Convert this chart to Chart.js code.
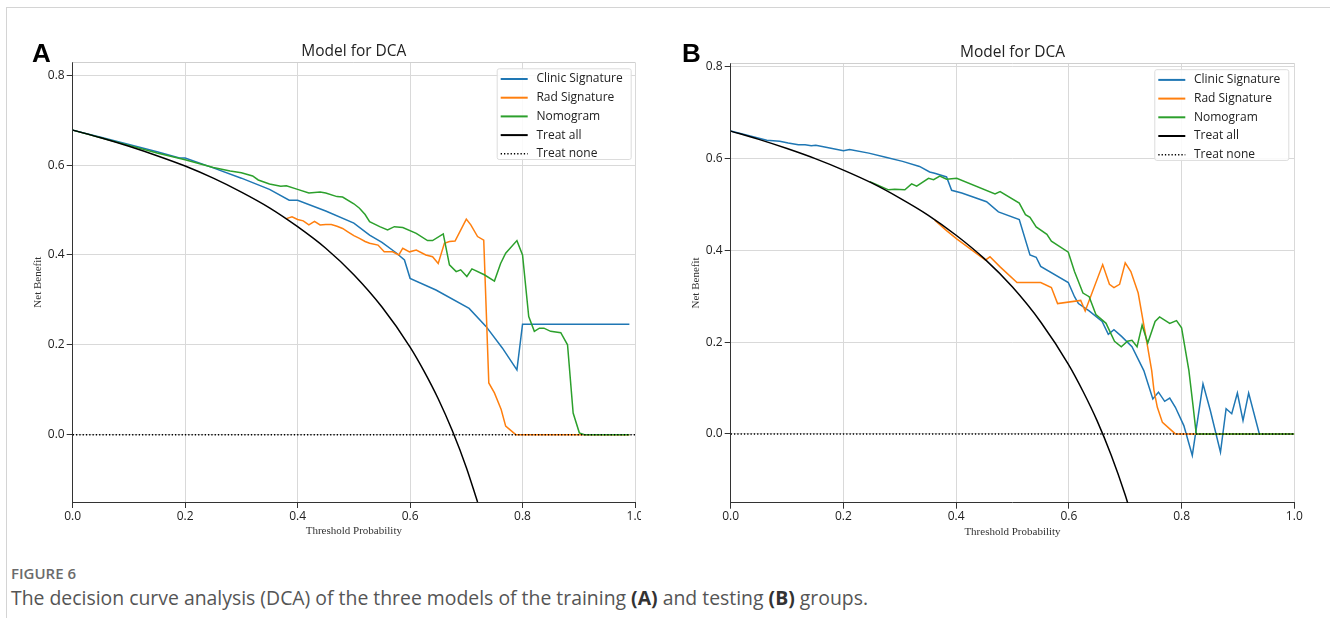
<!DOCTYPE html>
<html>
<head>
<meta charset="utf-8">
<script src="https://cdn.jsdelivr.net/npm/chart.js@4.4.1/dist/chart.umd.min.js"></script>
<style>
html, body { margin: 0; padding: 0; background: #fff; }
body { width: 1330px; height: 626px; position: relative; overflow: hidden; font-family: "Open Sans", sans-serif; }
.frame { position: absolute; left: 6px; top: 7px; width: 1330px; height: 610px; border-left: 1px solid #d4d4d4; border-top: 1px solid #d4d4d4; }
canvas { position: absolute; top: 0; }
#chartA { left: 0; }
#chartB { left: 660px; }
.fig { position: absolute; left: 11px; top: 563px; font-size: 15px; line-height: 20px; font-weight: 600; color: #6b6b6b; }
.cap { position: absolute; left: 11px; top: 586px; font-size: 19.4px; line-height: 24px; color: #555; white-space: nowrap; }
.cap b { color: #333; }
</style>
</head>
<body>
<div class="frame"></div>
<canvas id="chartA" width="641" height="560"></canvas>
<canvas id="chartB" width="670" height="560"></canvas>
<div class="fig">FIGURE 6</div>
<div class="cap">The decision curve analysis (DCA) of the three models of the training <b>(A)</b> and testing <b>(B)</b> groups.</div>
<script>
// panel A (training)
const treatAllA_t = [0, 0.05, 0.1, 0.15, 0.2, 0.25, 0.3, 0.35, 0.4, 0.45, 0.5, 0.55, 0.6, 0.625, 0.65, 0.675, 0.7, 0.72];
const treatAllA = [0.678, 0.661, 0.642, 0.621, 0.598, 0.571, 0.540, 0.505, 0.463, 0.415, 0.356, 0.284, 0.195, 0.141, 0.080, 0.009, -0.073, -0.150];
const clinicA = [[0,0.678],[0.05,0.662],[0.1,0.646],[0.15,0.630],[0.19,0.616],[0.2,0.616],[0.25,0.594],[0.3,0.571],[0.35,0.546],[0.385,0.522],[0.4,0.522],[0.45,0.498],[0.5,0.471],[0.528,0.444],[0.55,0.428],[0.575,0.405],[0.59,0.389],[0.6,0.348],[0.646,0.322],[0.705,0.281],[0.735,0.241],[0.764,0.193],[0.79,0.144],[0.8,0.246],[0.99,0.246]];
const radA = [[0.38,0.481],[0.39,0.485],[0.40,0.479],[0.41,0.476],[0.42,0.467],[0.43,0.475],[0.44,0.467],[0.45,0.468],[0.46,0.468],[0.47,0.464],[0.48,0.459],[0.49,0.451],[0.50,0.443],[0.51,0.437],[0.52,0.430],[0.528,0.426],[0.543,0.422],[0.554,0.407],[0.569,0.407],[0.58,0.400],[0.587,0.415],[0.599,0.407],[0.611,0.411],[0.628,0.400],[0.640,0.396],[0.650,0.381],[0.661,0.426],[0.670,0.430],[0.680,0.431],[0.700,0.480],[0.708,0.467],[0.720,0.441],[0.731,0.433],[0.740,0.115],[0.750,0.093],[0.762,0.056],[0.770,0.019],[0.788,0.0],[0.99,0.0]];
const nomoA = [[0,0.678],[0.05,0.661],[0.1,0.644],[0.15,0.627],[0.2,0.612],[0.25,0.595],[0.28,0.587],[0.3,0.583],[0.32,0.576],[0.33,0.567],[0.35,0.558],[0.37,0.553],[0.38,0.554],[0.4,0.546],[0.42,0.538],[0.44,0.540],[0.45,0.538],[0.47,0.530],[0.48,0.529],[0.5,0.514],[0.51,0.504],[0.52,0.490],[0.528,0.474],[0.546,0.463],[0.560,0.456],[0.572,0.463],[0.587,0.461],[0.611,0.448],[0.631,0.432],[0.640,0.432],[0.659,0.447],[0.670,0.378],[0.682,0.363],[0.690,0.367],[0.701,0.352],[0.710,0.369],[0.732,0.356],[0.750,0.342],[0.761,0.381],[0.770,0.404],[0.790,0.432],[0.800,0.400],[0.811,0.263],[0.821,0.230],[0.830,0.237],[0.838,0.237],[0.850,0.230],[0.868,0.227],[0.880,0.200],[0.890,0.048],[0.901,0.004],[0.91,0.0],[0.99,0.0]];
const noneA = [[0,0],[1,0]];

// panel B (testing)
const treatAllB_t = [0, 0.05, 0.1, 0.15, 0.2, 0.25, 0.3, 0.35, 0.4, 0.45, 0.5, 0.55, 0.6, 0.625, 0.65, 0.675, 0.7, 0.705];
const treatAllB = [0.660, 0.642, 0.622, 0.600, 0.575, 0.547, 0.514, 0.477, 0.433, 0.382, 0.320, 0.244, 0.150, 0.093, 0.029, -0.046, -0.133, -0.153];
const clinicB = [[0,0.660],[0.064,0.640],[0.087,0.638],[0.102,0.634],[0.12,0.630],[0.132,0.630],[0.143,0.628],[0.151,0.629],[0.169,0.625],[0.2,0.617],[0.211,0.620],[0.245,0.612],[0.275,0.603],[0.305,0.594],[0.335,0.583],[0.353,0.571],[0.362,0.568],[0.383,0.560],[0.392,0.531],[0.41,0.525],[0.454,0.506],[0.475,0.484],[0.512,0.467],[0.531,0.390],[0.542,0.385],[0.55,0.365],[0.599,0.330],[0.61,0.299],[0.617,0.284],[0.636,0.268],[0.659,0.245],[0.67,0.217],[0.68,0.227],[0.693,0.213],[0.712,0.190],[0.733,0.138],[0.749,0.076],[0.759,0.091],[0.770,0.071],[0.779,0.078],[0.789,0.058],[0.804,0.018],[0.819,-0.047],[0.838,0.109],[0.851,0.051],[0.869,-0.040],[0.879,0.055],[0.889,0.044],[0.899,0.089],[0.909,0.029],[0.919,0.089],[0.938,0.0],[1.0,0.0]];
const radB = [[0.362,0.466],[0.383,0.443],[0.401,0.425],[0.452,0.379],[0.46,0.386],[0.478,0.364],[0.508,0.330],[0.55,0.330],[0.569,0.319],[0.58,0.284],[0.621,0.291],[0.629,0.268],[0.66,0.369],[0.672,0.326],[0.68,0.319],[0.69,0.326],[0.70,0.373],[0.71,0.354],[0.723,0.307],[0.738,0.202],[0.747,0.138],[0.751,0.095],[0.757,0.058],[0.766,0.025],[0.789,0.0],[1.0,0.0]];
const nomoB = [[0.247,0.550],[0.280,0.532],[0.291,0.533],[0.309,0.532],[0.321,0.545],[0.33,0.540],[0.351,0.557],[0.36,0.554],[0.371,0.562],[0.383,0.555],[0.401,0.557],[0.469,0.523],[0.478,0.528],[0.512,0.503],[0.523,0.478],[0.531,0.472],[0.542,0.451],[0.561,0.435],[0.569,0.420],[0.599,0.396],[0.61,0.354],[0.625,0.307],[0.636,0.299],[0.648,0.260],[0.666,0.241],[0.681,0.202],[0.693,0.190],[0.704,0.202],[0.712,0.204],[0.721,0.190],[0.73,0.237],[0.74,0.198],[0.753,0.245],[0.761,0.255],[0.779,0.241],[0.791,0.247],[0.80,0.231],[0.813,0.138],[0.82,0.065],[0.826,0.0],[1.0,0.0]];
const noneB = [[0,0],[1,0]];

const xTicks = [0, 0.2, 0.4, 0.6, 0.8, 1.0];
const yTicks = [0, 0.2, 0.4, 0.6, 0.8];
const seriesNames = ["Clinic Signature", "Rad Signature", "Nomogram", "Treat all", "Treat none"];
const seriesColors = ["#1f77b4", "#ff7f0e", "#2ca02c", "#000000", "#000000"];

const pairs = arr => arr.map(p => ({ x: p[0], y: p[1] }));
const zip = (t, v) => t.map((x, i) => ({ x, y: v[i] }));

const decor = {
    id: "decor",
    afterDraw(chart, args, opts) {
        const ctx = chart.ctx;
        const ca = chart.chartArea;
        ctx.save();
        // top frame
        ctx.strokeStyle = "#cfcfcf";
        ctx.lineWidth = 1;
        ctx.beginPath();
        ctx.moveTo(ca.left, Math.round(ca.top) + 0.5);
        ctx.lineTo(ca.right, Math.round(ca.top) + 0.5);
        ctx.stroke();

        // panel letter
        ctx.fillStyle = "#000";
        ctx.font = "bold 26px 'Liberation Sans', Arial, sans-serif";
        ctx.textAlign = "left";
        ctx.textBaseline = "alphabetic";
        ctx.fillText(opts.letter, opts.letterX, 62);

        // title
        ctx.fillStyle = "#222";
        ctx.font = "15.5px 'Open Sans', sans-serif";
        ctx.textAlign = "center";
        ctx.textBaseline = "middle";
        ctx.fillText("Model for DCA", (ca.left + ca.right) / 2, ca.top - 11);

        // axis titles
        ctx.fillStyle = "#333";
        ctx.font = "11px 'Liberation Serif', 'Times New Roman', serif";
        ctx.fillText("Threshold Probability", (ca.left + ca.right) / 2, ca.bottom + 29);
        ctx.save();
        ctx.translate(ca.left - 34.5, (ca.top + ca.bottom) / 2);
        ctx.rotate(-Math.PI / 2);
        ctx.fillText("Net Benefit", 0, 0);
        ctx.restore();

        // legend
        ctx.font = "12px 'Open Sans', sans-serif";
        let tw = 0;
        seriesNames.forEach(n => { tw = Math.max(tw, ctx.measureText(n).width); });
        const bw = 39.7 + tw + 8;
        const bh = 90.7;
        const bx = ca.right - opts.legendGap - bw;
        const by = ca.top + 6;
        ctx.fillStyle = "rgba(255,255,255,0.85)";
        ctx.strokeStyle = "#dcdcdc";
        ctx.beginPath();
        ctx.roundRect(bx + 0.5, by + 0.5, bw, bh, 2);
        ctx.fill();
        ctx.stroke();
        ctx.textAlign = "left";
        seriesNames.forEach((n, i) => {
            const yy = by + 10.7 + i * 18.7;
            ctx.strokeStyle = seriesColors[i];
            ctx.lineWidth = i === 4 ? 1.6 : 2;
            ctx.setLineDash(i === 4 ? [1.3, 2] : []);
            ctx.beginPath();
            ctx.moveTo(bx + 4, yy);
            ctx.lineTo(bx + 31, yy);
            ctx.stroke();
            ctx.setLineDash([]);
            ctx.fillStyle = "#222";
            ctx.fillText(n, bx + 39.7, yy);
        });
        ctx.restore();
    }
};

function makePanel(id, d) {
    const tickFont = { family: "'Open Sans', sans-serif", size: 12 };
    return new Chart(document.getElementById(id), {
        type: "line",
        data: {
            datasets: [
                { label: seriesNames[0], data: pairs(d.clinic), borderColor: seriesColors[0], order: 4 },
                { label: seriesNames[1], data: pairs(d.rad), borderColor: seriesColors[1], order: 3 },
                { label: seriesNames[2], data: pairs(d.nomo), borderColor: seriesColors[2], order: 2 },
                { label: seriesNames[3], data: zip(d.allT, d.all), borderColor: seriesColors[3], cubicInterpolationMode: "monotone", order: 1 },
                { label: seriesNames[4], data: pairs(d.none), borderColor: seriesColors[4], borderDash: [1.3, 2], order: 0 }
            ]
        },
        options: {
            responsive: false,
            animation: false,
            devicePixelRatio: 1,
            layout: { padding: { left: 0, top: d.top, right: d.padRight, bottom: 0 } },
            elements: { point: { radius: 0 }, line: { borderWidth: 1.5, tension: 0, fill: false } },
            plugins: {
                legend: { display: false },
                tooltip: { enabled: false },
                title: { display: false },
                decor: { letter: d.letter, letterX: d.letterX, legendGap: d.legendGap }
            },
            scales: {
                x: {
                    type: "linear",
                    min: 0,
                    max: 1,
                    afterBuildTicks: s => { s.ticks = xTicks.map(v => ({ value: v })); },
                    afterFit: s => { s.height = d.xh; s.paddingLeft = 0; s.paddingRight = 0; },
                    grid: { color: "#d9d9d9", tickColor: "#333", tickLength: 6 },
                    border: { color: "#333" },
                    ticks: { font: tickFont, color: "#222", padding: 1, maxRotation: 0, autoSkip: false, callback: v => Number(v).toFixed(1) }
                },
                y: {
                    min: -0.15,
                    max: d.ymax,
                    afterBuildTicks: s => { s.ticks = yTicks.map(v => ({ value: v })); },
                    afterFit: s => { s.width = d.yw; s.paddingTop = 0; s.paddingBottom = 0; },
                    grid: { color: "#d9d9d9", tickColor: "#333", tickLength: 6 },
                    border: { color: "#333" },
                    ticks: { font: tickFont, color: "#222", padding: 2, callback: v => Number(v).toFixed(1) }
                }
            }
        },
        plugins: [decor]
    });
}

makePanel("chartA", {
    clinic: clinicA, rad: radA, nomo: nomoA, allT: treatAllA_t, all: treatAllA, none: noneA,
    top: 62.3, padRight: 6, xh: 58, yw: 72.7, ymax: 0.829,
    letter: "A", letterX: 32, legendGap: 4.3
});
makePanel("chartB", {
    clinic: clinicB, rad: radB, nomo: nomoB, allT: treatAllB_t, all: treatAllB, none: noneB,
    top: 63.2, padRight: 35.7, xh: 57.3, yw: 70.7, ymax: 0.808,
    letter: "B", letterX: 22, legendGap: 6
});
</script>
</body>
</html>
